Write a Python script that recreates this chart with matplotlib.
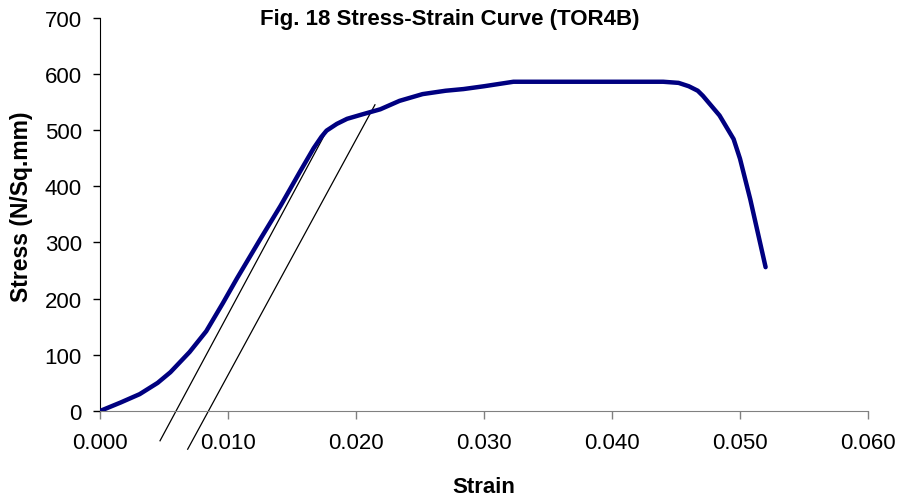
import matplotlib
matplotlib.use("Agg")
import matplotlib.pyplot as plt

plt.rcParams['font.family'] = ['Liberation Sans', 'DejaVu Sans']

strain = [0.0, 0.0016, 0.0031, 0.0045, 0.0055, 0.0070, 0.0083, 0.0096, 0.0107,
          0.0125, 0.0141, 0.0156, 0.0167, 0.0173, 0.0177, 0.0185, 0.0193, 0.0205,
          0.0219, 0.0234, 0.0252, 0.0270, 0.0284, 0.0300, 0.0323, 0.0340, 0.0380,
          0.0420, 0.0440, 0.0452, 0.0460, 0.0467, 0.0471, 0.0484, 0.0495, 0.0500,
          0.0508, 0.0520]
stress = [0, 15, 30, 50, 69, 105, 142, 192, 236,
          305, 365, 425, 468, 488, 499, 511, 520, 528,
          537, 552, 564, 570, 573, 578, 586, 586, 586,
          586, 586, 584, 578, 570, 561, 526, 484, 449,
          377, 256]

line1_x = [0.00469, 0.01758]
line1_y = [-53, 493]
line2_x = [0.00685, 0.02148]
line2_y = [-68, 545]

xticks = [0.000, 0.010, 0.020, 0.030, 0.040, 0.050, 0.060]
xticklabels = ["0.000", "0.010", "0.020", "0.030", "0.040", "0.050", "0.060"]
yticks = [0, 100, 200, 300, 400, 500, 600, 700]

fig = plt.figure(figsize=(9.01, 5.02), dpi=100)
ax = fig.add_axes([100/901, 1-412/502, 768/901, (412-18.7)/502])

ax.plot(strain, stress, color='#000080', lw=3.2, solid_capstyle='round',
        solid_joinstyle='round', zorder=3)
ax.plot(line1_x, line1_y, color='black', lw=0.9, clip_on=False, zorder=2)
ax.plot(line2_x, line2_y, color='black', lw=0.9, clip_on=False, zorder=2)

ax.set_xlim(0, 0.060)
ax.set_ylim(0, 700)
ax.set_xticks(xticks)
ax.set_xticklabels(xticklabels)
ax.set_yticks(yticks)
ax.spines['top'].set_visible(False)
ax.spines['right'].set_visible(False)
ax.spines['bottom'].set_color('#808080')
ax.spines['left'].set_color('black')
ax.tick_params(axis='x', direction='out', length=6, width=1, colors='#808080',
               labelcolor='black', labelsize=16, pad=9)
ax.tick_params(axis='y', direction='out', length=5, width=1, colors='black',
               labelsize=16, pad=8)

fig.text(450/901, 1-25/502, "Fig. 18 Stress-Strain Curve (TOR4B)", ha='center',
         va='baseline', fontsize=16, fontweight='bold')
fig.text(484/901, 1-493/502, "Strain", ha='center', va='baseline', fontsize=16,
         fontweight='bold')
fig.text(22/901, 1-207/502, "Stress (N/Sq.mm)", ha='center', va='center',
         fontsize=16.5, fontweight='bold', rotation=90)

fig.savefig("out.png", dpi=100)
